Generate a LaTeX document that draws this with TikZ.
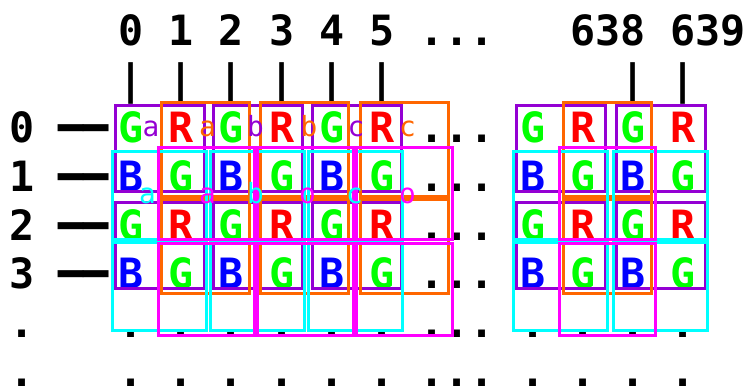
\documentclass[tikz,border=0pt]{standalone}
\usepackage{fontspec}
\setmonofont{DejaVu Sans Mono}
\definecolor{bayerG}{RGB}{0,255,0}
\definecolor{bayerR}{RGB}{255,0,0}
\definecolor{bayerB}{RGB}{0,0,255}
\definecolor{quadP}{RGB}{148,0,211}
\definecolor{quadO}{RGB}{255,102,0}
\definecolor{quadC}{RGB}{0,255,255}
\definecolor{quadM}{RGB}{255,0,255}
\newcommand\skipdots{...}

\begin{document}
\begin{tikzpicture}[x=1pt, y=-1pt,
  every node/.style={inner sep=0pt, anchor=base},
  cell/.style={font=\fontsize{41.7}{50}\selectfont\ttfamily\bfseries},
  tag/.style={font=\fontsize{27.8}{32}\selectfont\ttfamily},
  quad/.style={line width=3pt}]
\useasboundingbox (0,0) rectangle (747,387);

% column numbers and ticks
\foreach \t/\c in {0/0, 1/2, 2/4, 3/6, 4/8, 5/10, 638/19, 639/23}
  \node[cell] (col\c) at ({131+25.1*\c}, 45.8) {\t};
\node[cell] (colskip) at ({131+25.1*13}, 45.8) {\skipdots};
\foreach \c in {0,2,4,6,8,10,20,22}
  \node[cell] (tick\c) at ({131+25.1*\c}, 94.6) {|};

% row numbers
\foreach \r in {0,...,3} {
  \node[cell] (row\r) at (22.5, {143+48.6*\r}) {\r};
  \node[cell] (dash\r) at (84, {143+48.6*\r}) {━━};
}
\foreach \r in {4,5}
  \node[cell] (row\r) at (22.5, {143+48.6*\r}) {.};

% bayer pattern
\foreach \r/\a/\b/\ca/\cb in {0/G/R/bayerG/bayerR, 1/B/G/bayerB/bayerG,
                              2/G/R/bayerG/bayerR, 3/B/G/bayerB/bayerG} {
  \foreach \c in {0,4,8,16,20} {
    \node[cell, text=\ca] (px\r-\c-a) at ({131+25.1*\c}, {143+48.6*\r}) {\a};
    \node[cell, text=\cb] (px\r-\c-b) at ({131+25.1*(\c+2)}, {143+48.6*\r}) {\b};
  }
}
\foreach \r in {4,5}
  \foreach \c in {0,2,4,6,8,10,16,18,20,22}
    \node[cell] (px\r-\c) at ({131+25.1*\c}, {143+48.6*\r}) {.};
\foreach \r in {0,...,5}
  \node[cell] (skip\r) at ({131+25.1*13}, {143+48.6*\r}) {\skipdots};

% 2x2 quads
\foreach \x in {115,213,312,516,616}
  \foreach \y in {106,203}
    \draw[quad, quadP] (\x,\y) rectangle ++(89,86);
\foreach \x in {161,260,360,563}
  \foreach \y in {103,200}
    \draw[quad, quadO] (\x,\y) rectangle ++(88,93.5);
\foreach \x in {112,210,308,513,613}
  \foreach \y in {152,243}
    \draw[quad, quadC] (\x,\y) rectangle ++(94,87.5);
\foreach \x in {158,257,356,559}
  \foreach \y in {148,244}
    \draw[quad, quadM] (\x,\y) rectangle ++(96,92);

% quad tags
\foreach \t/\x in {a/151, b/255.5, c/356}
  \node[tag, text=quadP] (tagP\t) at (\x, 137) {\t};
\foreach \t/\x in {a/207.5, b/309, c/407.5}
  \node[tag, text=quadO] (tagO\t) at (\x, 137) {\t};
\foreach \t/\x in {a/147.5, b/255.5, c/354.5}
  \node[tag, text=quadC] (tagC\t) at (\x, 204) {\t};
\foreach \t/\n/\x in {a/1/207.5, o/2/307.5, o/3/407.5}
  \node[tag, text=quadM] (tagM\n) at (\x, 204) {\t};
\end{tikzpicture}
\end{document}
